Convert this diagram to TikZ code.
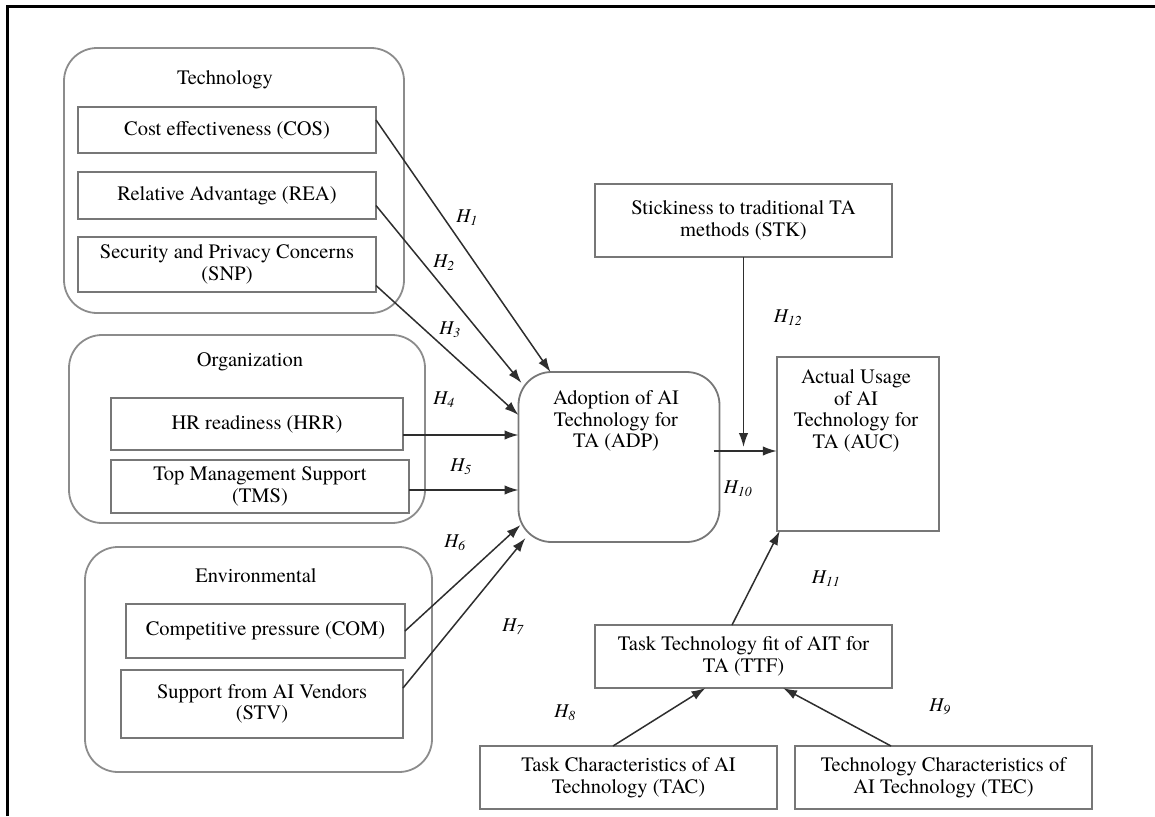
\documentclass[tikz,border=0pt]{standalone}
\usepackage{fontspec}
\setmainfont{texgyretermes}[Extension=.otf, UprightFont=*-regular, ItalicFont=*-italic, BoldFont=*-bold, BoldItalicFont=*-bolditalic]
\usetikzlibrary{arrows.meta,calc}
\definecolor{boxgray}{HTML}{777777}
\definecolor{grpgray}{HTML}{8C8C8C}
\definecolor{arrowgray}{HTML}{2E2E2E}
\begin{document}
\begin{tikzpicture}[x=1pt,y=-1pt,
  every node/.style={font=\fontsize{20.5}{21.5}\selectfont, outer sep=0pt},
  grp/.style={draw=grpgray, line width=1.8pt, rounded corners=33pt},
  box/.style={draw=boxgray, line width=1.8pt, align=center, inner sep=0pt},
  rbox/.style={draw=boxgray, line width=1.8pt, rounded corners=33pt},
  txt/.style={align=center, inner sep=0pt},
  hyp/.style={draw=arrowgray, line width=1.5pt, -{Latex[length=14pt,width=9.5pt]}},
  hlab/.style={font=\fontsize{19.5}{20}\selectfont\itshape, inner sep=0pt}]
\useasboundingbox (0,0) rectangle (1155,816);
% outer frame (left and top edges)
\draw[line width=3pt, black] (7,816) -- (7,7) -- (1155,7);

% groups
\node[grp, minimum width=340pt, minimum height=265pt] (tech) at (234,180.5) {};
\node[txt] (techt) at (225,80) {Technology};
\node[grp, minimum width=356pt, minimum height=188pt] (org) at (247,429) {};
\node[txt] (orgt) at (250,362) {Organization};
\node[grp, minimum width=347pt, minimum height=225pt] (env) at (258.5,659.5) {};
\node[txt] (envt) at (256,576) {Environmental};

% factor boxes
\node[box, minimum width=298pt, minimum height=46pt] (cos) at (227,130) {Cost effectiveness (COS)};
\node[box, minimum width=298pt, minimum height=47pt] (rea) at (227,195.5) {Relative Advantage (REA)};
\node[box, minimum width=298pt, minimum height=55pt] (snp) at (227,264.5) {Security and Privacy Concerns\\(SNP)};
\node[box, minimum width=292pt, minimum height=52pt] (hrr) at (257,424) {HR readiness (HRR)};
\node[box, minimum width=298pt, minimum height=53pt] (tms) at (260,486.5) {Top Management Support\\(TMS)};
\node[box, minimum width=279pt, minimum height=54pt] (com) at (265.5,631) {Competitive pressure (COM)};
\node[box, minimum width=282pt, minimum height=68pt] (stv) at (262,704) {Support from AI Vendors\\(STV)};

% central constructs
\node[rbox, minimum width=201pt, minimum height=170pt] (adp) at (619,457) {};
\node[txt] (adpt) at (616,421) {Adoption of AI\\Technology for\\TA (ADP)};
\node[box, minimum width=162.5pt, minimum height=174pt] (auc) at (858,444) {};
\node[txt] (auct) at (856,411) {Actual Usage\\of AI\\Technology for\\TA (AUC)};
\node[box, minimum width=297pt, minimum height=73pt] (stk) at (743.5,220.5) {Stickiness to traditional TA\\methods (STK)};
\node[box, minimum width=297pt, minimum height=63pt] (ttf) at (743.5,656.5) {Task Technology fit of AIT for\\TA (TTF)};
\node[box, minimum width=297pt, minimum height=63pt] (tac) at (628.5,777.5) {Task Characteristics of AI\\Technology (TAC)};
\node[box, minimum width=297pt, minimum height=63pt] (tec) at (943.5,777.5) {Technology Characteristics of\\AI Technology (TEC)};

% connectors
\draw[hyp] ($(cos.east)+(0,-10)$) -- ($(adp.north west)+(32,0)$);
\draw[hyp] ($(rea.east)+(0,10)$) -- ($(adp.west)+(3,-74)$);
\draw[hyp] ($(snp.east)+(0,21)$) -- ($(adp.west)+(0,-42)$);
\draw[hyp] ($(hrr.east)+(0,11)$) -- ($(adp.west)+(0,-22)$);
\draw[hyp] ($(tms.east)+(0,3.5)$) -- ($(adp.west)+(0,33)$);
\draw[hyp] (com.east) -- ($(adp.west)+(2,68)$);
\draw[hyp] ($(stv.east)+(0,-16)$) -- ($(adp.west)+(7,81)$);
\draw[hyp] ($(adp.east)+(-6,-6)$) -- ($(auc.west)+(0,7)$);
\coordinate (stkend) at ($(stk.south |- auc.west)+(0,3)$);
\draw[hyp] (stk.south) -- (stkend);
\draw[hyp] ($(ttf.north)+(-11.5,0)$) -- ($(auc.south west)+(3,0)$);
\draw[hyp] ($(tac.north)+(-15.5,0)$) -- ($(ttf.south)+(-38,0)$);
\draw[hyp] ($(tec.north)+(-52.5,0)$) -- ($(ttf.south)+(39.5,0)$);

% hypothesis labels
\node[hlab] (h1) at (467,218) {H\textsubscript{1}};
\node[hlab] (h2) at (444,263) {H\textsubscript{2}};
\node[hlab] (h3) at (450,330) {H\textsubscript{3}};
\node[hlab] (h4) at (444,400) {H\textsubscript{4}};
\node[hlab] (h5) at (461,467) {H\textsubscript{5}};
\node[hlab] (h6) at (455,543) {H\textsubscript{6}};
\node[hlab] (h7) at (513,627) {H\textsubscript{7}};
\node[hlab] (h8) at (565,713) {H\textsubscript{8}};
\node[hlab] (h9) at (940,707) {H\textsubscript{9}};
\node[hlab] (h10) at (738,489) {H\textsubscript{10}};
\node[hlab] (h11) at (826,579) {H\textsubscript{11}};
\node[hlab] (h12) at (788,318) {H\textsubscript{12}};
\end{tikzpicture}
\end{document}
